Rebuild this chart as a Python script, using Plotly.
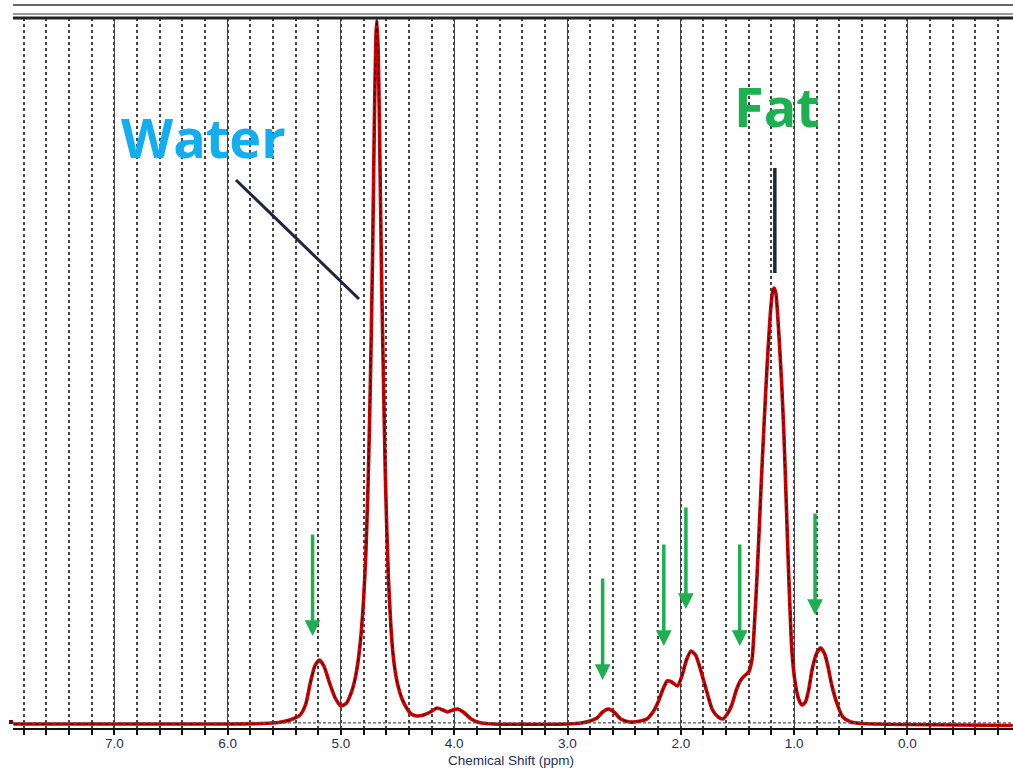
import plotly.graph_objects as go

# ---- data ----
ppm = [7.89, 7.0, 6.0, 5.7, 5.55, 5.45, 5.36, 5.31, 5.27, 5.23, 5.19, 5.15, 5.10, 5.05, 5.00,
       4.95, 4.92, 4.89, 4.86, 4.84, 4.82, 4.80, 4.78, 4.76, 4.74, 4.72, 4.705, 4.69, 4.682,
       4.67, 4.655, 4.64, 4.625, 4.61, 4.595, 4.58, 4.56, 4.54, 4.52, 4.50, 4.46, 4.42, 4.38,
       4.33, 4.27, 4.21, 4.15, 4.10, 4.06, 4.01, 3.97, 3.92, 3.85, 3.78, 3.65, 3.0, 2.88,
       2.80, 2.74, 2.69, 2.64, 2.59, 2.53, 2.45, 2.38, 2.30, 2.24, 2.20, 2.16, 2.12, 2.08,
       2.03, 1.99, 1.95, 1.91, 1.87, 1.83, 1.80, 1.76, 1.72, 1.67, 1.63, 1.59, 1.55, 1.51,
       1.47, 1.43, 1.40, 1.37, 1.35, 1.33, 1.31, 1.29, 1.265, 1.24, 1.21, 1.19, 1.175, 1.16,
       1.14, 1.11, 1.09, 1.075, 1.06, 1.045, 1.02, 0.99, 0.96, 0.93, 0.90, 0.87, 0.84, 0.80,
       0.765, 0.73, 0.70, 0.67, 0.62, 0.57, 0.50, 0.40, 0.0, -0.93]
intensity = [0, 0, 0, 0.5, 1.5, 4, 9, 20, 41, 58, 64, 58, 41, 26, 18,
             21, 28, 38, 54, 70, 92, 124, 170, 240, 340, 470, 600, 690, 704,
             670, 560, 440, 350, 260, 195, 145, 100, 70, 52, 40, 25, 16, 10,
             8, 9, 12, 16, 14, 12, 14, 15, 12, 5, 1.5, 0, 0, 1,
             3, 6, 12, 15, 12, 5, 2, 2.5, 5, 13, 22, 34, 43, 42,
             38, 48, 64, 73, 69, 56, 44, 28, 14, 7, 5, 10, 19, 34,
             44, 49, 52, 66, 100, 141, 190, 241, 300, 355, 410, 432, 436, 430,
             400, 341, 290, 241, 190, 141, 74, 41, 25, 19, 22, 35, 55, 71,
             76, 70, 57, 40, 20, 7, 2, 0.5, -0.5, -1.5]

tick_vals = [7.0, 6.0, 5.0, 4.0, 3.0, 2.0, 1.0, 0.0]
tick_text = ["7.0", "6.0", "5.0", "4.0", "3.0", "2.0", "1.0", "0.0"]

# arrow tips (ppm, intensity) for the green markers
arrow_ppm = [5.25, 2.69, 2.15, 1.955, 1.48, 0.815]
arrow_tip = [88, 44, 78, 115, 78, 109]

X_RANGE = [7.894, -0.932]
Y_RANGE = [-4, 706]

fig = go.Figure()
fig.add_trace(go.Scatter(x=ppm, y=intensity, mode="lines",
                         line=dict(color="#D00000", width=3.6, shape="spline", smoothing=0.6),
                         hoverinfo="skip", showlegend=False))
fig.add_trace(go.Scatter(x=ppm, y=intensity, mode="lines",
                         line=dict(color="#200000", width=1.0, shape="spline", smoothing=0.6,
                                   dash="4px,3px"),
                         hoverinfo="skip", showlegend=False))

shapes = []
# dashed baseline
shapes.append(dict(type="line", xref="paper", yref="y", x0=0, x1=1, y0=1.2, y1=1.2,
                   line=dict(color="#555555", width=1.2, dash="3px,2px")))
# top frame decorations
for yy, col, w in [(1.0183, "#666666", 2), (1.0056, "#777777", 1.5), (1.0, "#222222", 3)]:
    shapes.append(dict(type="line", xref="paper", yref="paper", x0=0, x1=1, y0=yy, y1=yy,
                       line=dict(color=col, width=w)))
# small marker at left
shapes.append(dict(type="rect", xref="paper", yref="y", x0=-0.004, x1=0.0, y0=0, y1=4,
                   fillcolor="#7A0000", line=dict(width=0)))
# annotation lines (Water / Fat)
shapes.append(dict(type="line", xref="x", yref="y", x0=5.926, y0=544, x1=4.84, y1=425,
                   line=dict(color="#1C2541", width=3)))
shapes.append(dict(type="line", xref="x", yref="y", x0=1.17, y0=556, x1=1.17, y1=451,
                   line=dict(color="#1C2541", width=3.5)))

annotations = [
    dict(x=6.217, y=587, xref="x", yref="y", text="<b>Water</b>", showarrow=False,
         font=dict(family="Open Sans", size=54, color="#14AEEE")),
    dict(x=1.151, y=618, xref="x", yref="y", text="<b>Fat</b>", showarrow=False,
         font=dict(family="Open Sans", size=54, color="#1DB050")),
    dict(x=0.498, y=-0.0451, xref="paper", yref="paper", text="Chemical Shift (ppm)",
         showarrow=False, yanchor="middle",
         font=dict(family="Liberation Sans", size=13.5, color="#1F2D5A")),
]
for xp, yt in zip(arrow_ppm, arrow_tip):
    annotations.append(dict(x=xp, y=yt, xref="x", yref="y", ax=0, ay=-103, text="",
                            showarrow=True, arrowhead=2, arrowsize=0.9, arrowwidth=3.5,
                            arrowcolor="#1DB050", standoff=0))

fig.update_layout(
    width=1013, height=769,
    margin=dict(l=13, r=0, t=18, b=41),
    paper_bgcolor="white", plot_bgcolor="white",
    shapes=shapes, annotations=annotations,
    showlegend=False,
    xaxis=dict(range=X_RANGE, tickvals=tick_vals, ticktext=tick_text,
               showgrid=True, gridcolor="#444444", gridwidth=1.2,
               ticks="outside", ticklen=5, tickwidth=2, tickcolor="#111111",
               showline=True, linecolor="#111111", linewidth=2,
               zeroline=False, ticklabelstandoff=-3,
               tickfont=dict(family="Liberation Sans", size=13.5, color="#1F2D5A"),
               minor=dict(dtick=0.2, tick0=0, showgrid=True, gridcolor="#444444",
                          gridwidth=1.5, griddash="3px,3px", ticks="outside",
                          ticklen=5, tickwidth=2, tickcolor="#111111")),
    yaxis=dict(range=Y_RANGE, visible=False, showgrid=False, zeroline=False),
)

fig.write_html("out.html")
